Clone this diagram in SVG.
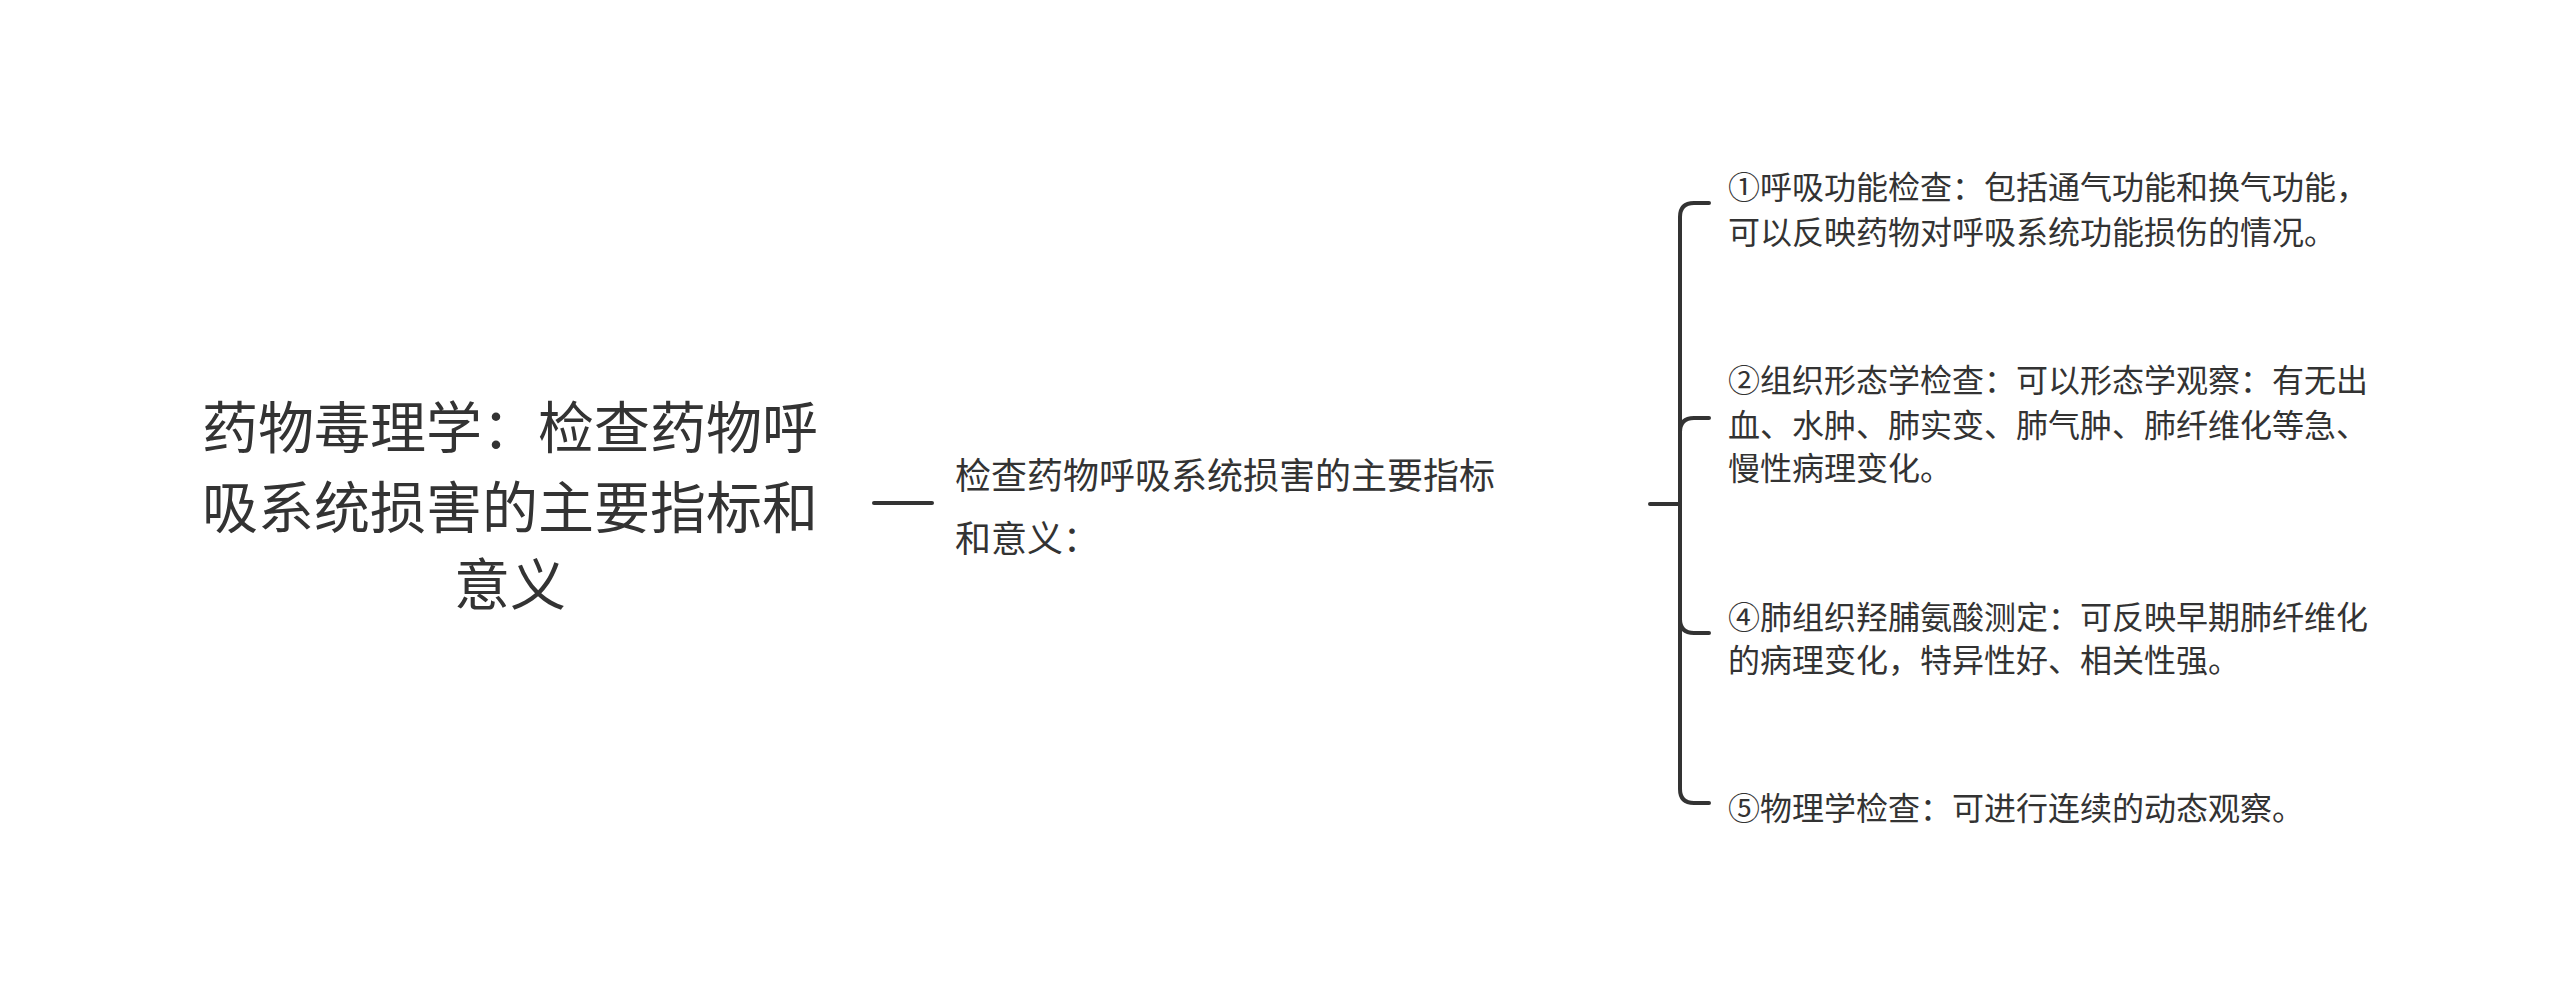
<svg xmlns="http://www.w3.org/2000/svg" width="2560" height="983" viewBox="0 0 2560 983">
<style>
text{font-family:"Noto Sans CJK SC","Noto Sans",sans-serif;fill:#333;dominant-baseline:central}
.r{font-size:56px}.m{font-size:36px}.l{font-size:32px}
.c{fill:none;stroke:#333;stroke-width:4;stroke-linecap:round}
</style>
<rect width="2560" height="983" fill="#fff"/>
<g id="connectors">
<line class="c" x1="874" y1="503" x2="932" y2="503"/>
<path class="c" d="M1650 504H1680M1709 203H1694Q1680 203 1680 217V789Q1680 803 1694 803H1709M1709 418H1694Q1680 418 1680 432M1709 633H1694Q1680 633 1680 619"/>
</g>
<g id="root"><text class="r" x="510" y="423" text-anchor="middle">药物毒理学：检查药物呼</text><text class="r" x="510" y="503" text-anchor="middle">吸系统损害的主要指标和</text><text class="r" x="510" y="580" text-anchor="middle">意义</text></g>
<g id="mid"><text class="m" x="955" y="473">检查药物呼吸系统损害的主要指标</text><text class="m" x="955" y="536">和意义：</text></g>
<g id="n1"><text class="l" x="1728" y="185">①呼吸功能检查：包括通气功能和换气功能，</text><text class="l" x="1728" y="230">可以反映药物对呼吸系统功能损伤的情况。</text></g>
<g id="n2"><text class="l" x="1728" y="378">②组织形态学检查：可以形态学观察：有无出</text><text class="l" x="1728" y="423">血、水肿、肺实变、肺气肿、肺纤维化等急、</text><text class="l" x="1728" y="466">慢性病理变化。</text></g>
<g id="n4"><text class="l" x="1728" y="615">④肺组织羟脯氨酸测定：可反映早期肺纤维化</text><text class="l" x="1728" y="658">的病理变化，特异性好、相关性强。</text></g>
<g id="n5"><text class="l" x="1728" y="806">⑤物理学检查：可进行连续的动态观察。</text></g>
</svg>
